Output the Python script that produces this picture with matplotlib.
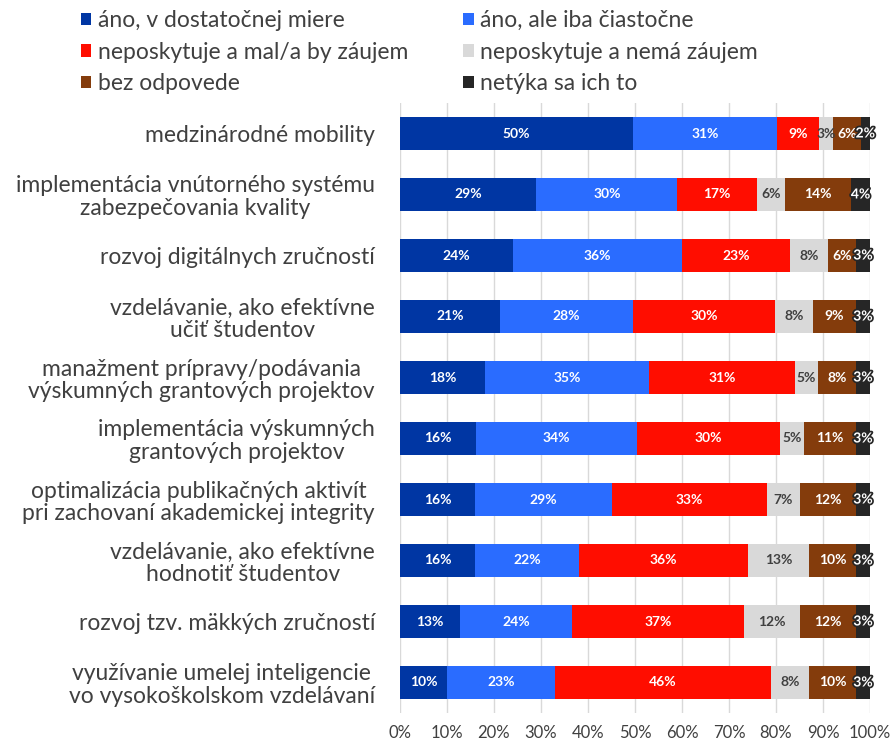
import matplotlib.pyplot as plt
import matplotlib.patheffects as pe
import numpy as np

plt.rcParams['font.family'] = ['Lato', 'DejaVu Sans']

categories = [
    "medzinárodné mobility",
    "implementácia vnútorného systému\nzabezpečovania kvality",
    "rozvoj digitálnych zručností",
    "vzdelávanie, ako efektívne\nučiť študentov",
    "manažment prípravy/podávania\nvýskumných grantových projektov",
    "implementácia výskumných\ngrantových projektov",
    "optimalizácia publikačných aktivít\npri zachovaní akademickej integrity",
    "vzdelávanie, ako efektívne\nhodnotiť študentov",
    "rozvoj tzv. mäkkých zručností",
    "využívanie umelej inteligencie\nvo vysokoškolskom vzdelávaní",
]

series_names = [
    "áno, v dostatočnej miere",
    "áno, ale iba čiastočne",
    "neposkytuje a mal/a by záujem",
    "neposkytuje a nemá záujem",
    "bez odpovede",
    "netýka sa ich to",
]

ano_dostatocne = [50, 29, 24, 21, 18, 16, 16, 16, 13, 10]
ano_ciastocne = [31, 30, 36, 28, 35, 34, 29, 22, 24, 23]
zaujem = [9, 17, 23, 30, 31, 30, 33, 36, 37, 46]
bez_zaujmu = [3, 6, 8, 8, 5, 5, 7, 13, 12, 8]
bez_odpovede = [6, 14, 6, 9, 8, 11, 12, 10, 12, 10]
netyka = [2, 4, 3, 3, 3, 3, 3, 3, 3, 3]

colors = ['#0036a3', '#2a6cff', '#ff0d00', '#d9d9d9', '#843c0c', '#262626']
label_colors = ['white', 'white', 'white', '#404040', 'white', 'white']

values = np.array([ano_dostatocne, ano_ciastocne, zaujem, bez_zaujmu,
                   bez_odpovede, netyka], dtype=float)
# 100 % stacked: each bar is scaled to its own total
shares = values / values.sum(axis=0) * 100

fig = plt.figure(figsize=(8.9, 7.42), dpi=100)
ax = fig.add_axes([400 / 890, 1 - 713 / 742, 470 / 890, 610 / 742])

y = np.arange(len(categories))
left = np.zeros(len(categories))
handles = []
for i, name in enumerate(series_names):
    bars = ax.barh(y, shares[i], left=left, height=0.54, color=colors[i],
                   label=name, zorder=2)
    handles.append(bars)
    for j in range(len(categories)):
        xc = left[j] + shares[i, j] / 2
        effects = None
        if i == 5:
            effects = [pe.withStroke(linewidth=2.5, foreground='#262626')]
        ax.text(xc, y[j], f"{int(values[i, j])}%", ha='center', va='center',
                fontsize=10, fontweight='bold', color=label_colors[i],
                path_effects=effects, zorder=3)
    left += shares[i]

ax.set_xlim(0, 100)
ax.set_ylim(len(categories) - 0.5, -0.5)
ax.set_xticks(np.arange(0, 101, 10))
ax.set_xticklabels([f"{t}%" for t in range(0, 101, 10)])
ax.set_yticks(y)
ax.set_yticklabels(categories, multialignment='center', linespacing=1.1)
ax.tick_params(axis='y', length=0, pad=18, labelsize=16.5, labelcolor='#404040')
ax.tick_params(axis='x', length=0, pad=9, labelsize=12, labelcolor='#404040')
ax.grid(axis='x', color='#d9d9d9', linewidth=1, zorder=0)
for s in ax.spines.values():
    s.set_visible(False)

order = [0, 2, 4, 1, 3, 5]
fig.legend([handles[k] for k in order], [series_names[k] for k in order],
           ncol=2, loc='upper left', bbox_to_anchor=(60 / 890, 1.014),
           frameon=False, fontsize=16.5, handlelength=0.45, handleheight=0.45,
           handletextpad=0.3, columnspacing=2.4, labelspacing=0.45,
           labelcolor='#404040')

fig.savefig('out.png', dpi=100)
